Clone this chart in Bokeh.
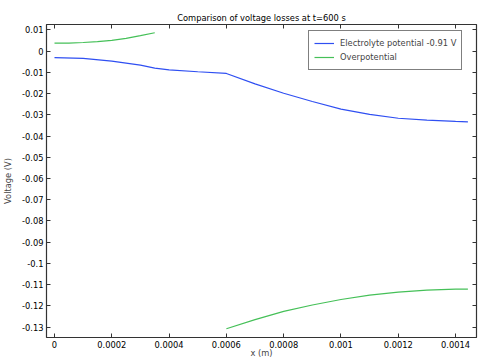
from bokeh.plotting import figure
from bokeh.models import (Range1d, LinearAxis, FixedTicker, CustomJSTickFormatter,
                          Legend, LegendItem)
from bokeh.embed import file_html
from bokeh.resources import INLINE

# ---- data ----
elec_x = [0, 0.0001, 0.0002, 0.0003, 0.00035, 0.0004, 0.0005, 0.0006, 0.0007,
          0.0008, 0.0009, 0.001, 0.0011, 0.0012, 0.0013, 0.0014, 0.001443]
elec_y = [-0.0030, -0.0034, -0.0047, -0.0066, -0.0080, -0.0088, -0.0097, -0.0105,
          -0.0154, -0.0198, -0.0237, -0.0273, -0.0298, -0.0316, -0.0325, -0.0331, -0.0333]

over1_x = [0, 0.00005, 0.0001, 0.00015, 0.0002, 0.00025, 0.0003, 0.00035]
over1_y = [0.0038, 0.0038, 0.0041, 0.0045, 0.0051, 0.0060, 0.0073, 0.0087]

over2_x = [0.0006, 0.0007, 0.0008, 0.0009, 0.001, 0.0011, 0.0012, 0.0013, 0.0014, 0.001443]
over2_y = [-0.1308, -0.1265, -0.1226, -0.1196, -0.1170, -0.1149, -0.1135, -0.1126, -0.1121, -0.1121]

x_ticks = [0, 0.0002, 0.0004, 0.0006, 0.0008, 0.001, 0.0012, 0.0014]
y_ticks = [0.01, 0, -0.01, -0.02, -0.03, -0.04, -0.05, -0.06, -0.07, -0.08,
           -0.09, -0.1, -0.11, -0.12, -0.13]

title_text = "Comparison of voltage losses at t=600 s"
x_label = "x (m)"
y_label = "Voltage (V)"
elec_label = "Electrolyte potential -0.91 V"
over_label = "Overpotential"

FONT = "DejaVu Sans"
FS = "8.3px"
BLUE = "#2f4ff2"
GREEN = "#45c058"
AXC = "#333333"

p = figure(frame_width=430, frame_height=313, output_backend="svg", toolbar_location=None,
           x_range=Range1d(-0.0000279, 0.001473), y_range=Range1d(-0.1349, 0.01257),
           min_border_left=46, min_border_right=7, min_border_top=24, min_border_bottom=26,
           x_axis_type=None, y_axis_type=None)

p.title.text = title_text
p.title.align = "center"
p.title.text_font = FONT
p.title.text_font_size = FS
p.title.text_font_style = "normal"
p.title.text_color = "#000000"
p.title.standoff = 3

fmt = CustomJSTickFormatter(code="return String(Number(tick.toFixed(5)));")

def style_axis(ax, labels=True):
    ax.major_tick_in = 4
    ax.major_tick_out = 0
    ax.minor_tick_line_color = None
    ax.axis_line_color = AXC
    ax.axis_line_width = 1.2
    ax.major_tick_line_color = AXC
    ax.major_label_text_font = FONT
    ax.major_label_text_font_size = FS if labels else "1px"
    ax.major_label_text_color = "#000000"
    if not labels:
        ax.major_label_text_alpha = 0
    ax.major_label_standoff = 3 if labels else 0
    ax.axis_label_text_font = FONT
    ax.axis_label_text_font_size = FS
    ax.axis_label_text_font_style = "normal"
    ax.axis_label_standoff = 0

xt = FixedTicker(ticks=x_ticks)
yt = FixedTicker(ticks=y_ticks)

xb = LinearAxis(ticker=xt, formatter=fmt, axis_label=x_label)
style_axis(xb)
xb.axis_label_standoff = -3
yl = LinearAxis(ticker=yt, formatter=fmt, axis_label=y_label)
style_axis(yl)
yl.axis_label_standoff = 6
xa = LinearAxis(ticker=xt, formatter=fmt)
style_axis(xa, labels=False)
yr = LinearAxis(ticker=yt, formatter=fmt)
style_axis(yr, labels=False)
p.add_layout(xb, "below")
p.add_layout(yl, "left")
p.add_layout(xa, "above")
p.add_layout(yr, "right")

p.xgrid.ticker = xt
p.ygrid.ticker = yt
p.xgrid.grid_line_color = "#e3e3e3"
p.ygrid.grid_line_color = "#e3e3e3"
p.outline_line_color = AXC

r_e = p.line(elec_x, elec_y, line_color=BLUE, line_width=1.2)
r_o1 = p.line(over1_x, over1_y, line_color=GREEN, line_width=1.2)
r_o2 = p.line(over2_x, over2_y, line_color=GREEN, line_width=1.2)

legend = Legend(items=[LegendItem(label=elec_label, renderers=[r_e]),
                       LegendItem(label=over_label, renderers=[r_o1])],
                location=(262, 267), margin=0, padding=5, spacing=0,
                label_height=14, glyph_height=14, glyph_width=20, label_standoff=6,
                label_text_font=FONT, label_text_font_size=FS,
                border_line_color="#000000", border_line_width=1,
                background_fill_alpha=1.0)
p.add_layout(legend, "center")

open("out.html", "w").write(file_html(p, INLINE))
